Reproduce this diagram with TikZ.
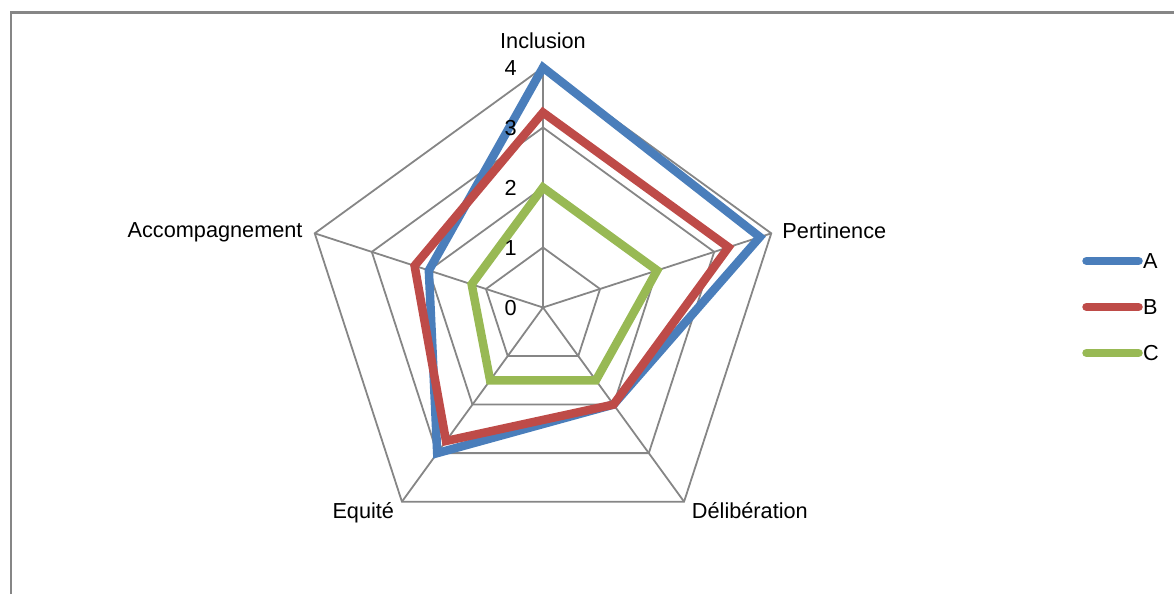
\documentclass[tikz,border=0pt]{standalone}
\usepackage{fontspec}
\setmainfont{Liberation Sans}
\definecolor{serA}{HTML}{4A7EBB}
\definecolor{serB}{HTML}{BE4B48}
\definecolor{serC}{HTML}{98B954}
\definecolor{gridgray}{HTML}{868686}

\begin{document}
\begin{tikzpicture}[x=1pt, y=1pt,
  every node/.style={font=\fontsize{21.7}{26}\selectfont, inner sep=0pt},
  grid/.style={gridgray, line width=1.8pt},
  serie/.style={#1, line width=8.5pt},
  legline/.style={#1, line width=8.5pt, line cap=round, shorten >=4.5pt}]
\useasboundingbox (-543,-286.5) rectangle (631,307.5);
% Frame
\draw[gridgray, line width=2.2pt] (-532,-286.5) -- (-532,295) -- (631,295);
\begin{scope}[scale=60]
% Axis ends
\coordinate (O) at (0,0);
\foreach \name/\ang in {inc/90, per/18, del/-54, equ/-126, acc/162}
    \coordinate (\name) at (\ang:4);
% Grid
\foreach \k in {1,...,4}
    \draw[grid] (90:\k) -- (18:\k) -- (-54:\k) -- (-126:\k) -- (162:\k) -- cycle;
\foreach \name in {inc, per, del, equ, acc}
    \draw[grid] (O) -- (\name);
% Series
\draw[serie=serA] (90:4) -- (18:3.8) -- (-54:2) -- (-126:3) -- (162:2) -- cycle;
\draw[serie=serB] (90:3.25) -- (18:3.25) -- (-54:2) -- (-126:2.75) -- (162:2.25) -- cycle;
\draw[serie=serC] (90:2) -- (18:2) -- (-54:1.5) -- (-126:1.5) -- (162:1.25) -- cycle;
\end{scope}
% Scale
\foreach \k in {0,...,4}
    \node[anchor=base east] (n\k) at (-26, 60*\k-8) {\k};
% Axis labels
\node[anchor=base] (linc) at ([yshift=19pt]inc) {Inclusion};
\node[anchor=base west] (lper) at ([xshift=11pt, yshift=-5pt]per) {Pertinence};
\node[anchor=base west] (ldel) at ([xshift=7.7pt, yshift=-16.5pt]del) {Délibération};
\node[anchor=base east] (lequ) at ([xshift=-7.7pt, yshift=-16.8pt]equ) {Equité};
\node[anchor=base east] (lacc) at ([xshift=-12pt, yshift=-4pt]acc) {Accompagnement};
% Legend
\foreach \s/\lab/\y in {serA/A/46.5, serB/B/0.5, serC/C/-45.5} {
    \coordinate (leg\lab) at (543.5,\y);
    \node[anchor=west] (lab\lab) at (600,\y) {\lab};
    \draw[legline=\s] (leg\lab) -- (lab\lab.west);
}
\end{tikzpicture}
\end{document}
